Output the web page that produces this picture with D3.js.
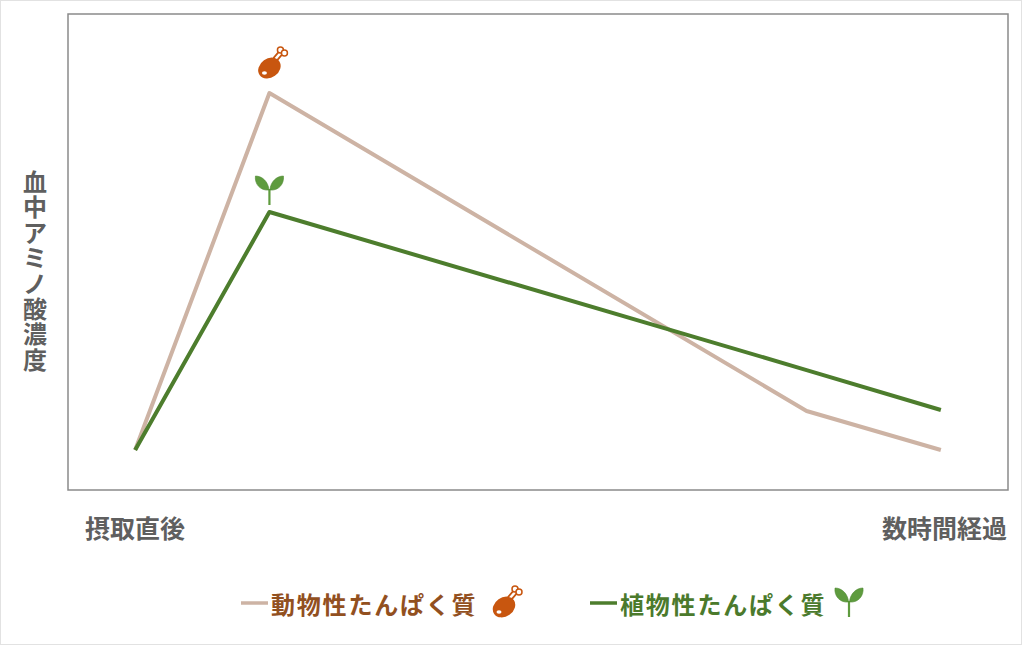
<!DOCTYPE html>
<html lang="ja">
<head>
  <meta charset="UTF-8">
  <title>血中アミノ酸濃度</title>
  <script src="https://d3js.org/d3.v7.min.js"></script>
  <style>
    html, body { margin: 0; padding: 0; background: #fff; }
    body { font-family: 'Noto Sans CJK JP', 'Noto Sans', sans-serif; }
  </style>
</head>
<body>
  <div id="chart"></div>
  <script>
    // data (x = time step, y = relative concentration)
    var timePoints = [0, 1, 5, 6];
    var animalValues = [8.4, 83.4, 16.6, 8.4];
    var plantValues = [8.4, 58.4, 25.2, 16.8];
    var seriesNames = ["動物性たんぱく質", "植物性たんぱく質"];
    var xLabels = ["摂取直後", "数時間経過"];
    var yLabel = "血中アミノ酸濃度";

    var width = 1024, height = 646;
    var frame = { left: 68, top: 14, right: 1008, bottom: 490 };
    var animalColor = "#cdb3a4", plantColor = "#4d7d2d";
    var animalText = "#92501f", plantText = "#4b7a2c";
    var chickenColor = "#c8560f", sproutColor = "#5e9b3e";

    var svg = d3.select("#chart").append("svg")
      .attr("width", width)
      .attr("height", height);

    // light outer border
    svg.append("rect")
      .attr("x", 0.5).attr("y", 0.5)
      .attr("width", 1021).attr("height", 644)
      .attr("fill", "#fff")
      .attr("stroke", "#e2e2e2");

    var x = d3.scaleLinear().domain([-0.5, 6.5]).range([frame.left, frame.right]);
    var y = d3.scaleLinear().domain([0, 100]).range([frame.bottom, frame.top]);

    svg.append("rect")
      .attr("x", frame.left).attr("y", frame.top)
      .attr("width", frame.right - frame.left)
      .attr("height", frame.bottom - frame.top)
      .attr("fill", "none")
      .attr("stroke", "#8a8a8a")
      .attr("stroke-width", 1.5);

    // icons
    var defs = svg.append("defs");
    var chicken = defs.append("g").attr("id", "chicken");
    chicken.append("path")
      .attr("d", "M4,-6 L10,-13")
      .attr("stroke", chickenColor).attr("stroke-width", 6).attr("stroke-linecap", "round");
    chicken.append("path")
      .attr("d", "M4,-6 L10,-13")
      .attr("stroke", "#fff").attr("stroke-width", 2.5).attr("stroke-linecap", "round");
    chicken.append("circle").attr("cx", 9).attr("cy", -15).attr("r", 3)
      .attr("fill", "#fff").attr("stroke", chickenColor).attr("stroke-width", 1.5);
    chicken.append("circle").attr("cx", 13).attr("cy", -12).attr("r", 3)
      .attr("fill", "#fff").attr("stroke", chickenColor).attr("stroke-width", 1.5);
    chicken.append("ellipse")
      .attr("cx", -2).attr("cy", 3).attr("rx", 12).attr("ry", 9.5)
      .attr("transform", "rotate(-35,-2,3)")
      .attr("fill", chickenColor);
    chicken.append("ellipse")
      .attr("cx", -7).attr("cy", 8).attr("rx", 2.5).attr("ry", 1.8)
      .attr("fill", "#fff");

    var sprout = defs.append("g").attr("id", "sprout");
    sprout.append("path")
      .attr("d", "M0,-1 L0,15")
      .attr("stroke", sproutColor).attr("stroke-width", 2.2);
    sprout.append("path")
      .attr("d", "M-0.5,0 C-1,-8 -7,-14 -14,-14 C-15,-6 -9,1 -0.5,0 Z")
      .attr("fill", sproutColor).attr("stroke", "#4f8a33").attr("stroke-width", 0.6);
    sprout.append("path")
      .attr("d", "M0.5,0 C1,-8 7,-14 14,-14 C15,-6 9,1 0.5,0 Z")
      .attr("fill", sproutColor).attr("stroke", "#4f8a33").attr("stroke-width", 0.6);

    var line = d3.line()
      .x(function(d) { return x(d.t); })
      .y(function(d) { return y(d.v); });

    var series = [
      { name: seriesNames[0], values: animalValues, color: animalColor, text: animalText, icon: "#chicken" },
      { name: seriesNames[1], values: plantValues, color: plantColor, text: plantText, icon: "#sprout" }
    ];

    series.forEach(function(s) {
      var pts = timePoints.map(function(t, i) { return { t: t, v: s.values[i] }; });
      svg.append("path")
        .datum(pts)
        .attr("d", line)
        .attr("fill", "none")
        .attr("stroke", s.color)
        .attr("stroke-width", 4)
        .attr("stroke-linejoin", "round");
    });

    // icons above peaks
    svg.append("use").attr("href", "#chicken")
      .attr("transform", "translate(" + (x(timePoints[1]) + 2) + "," + (y(animalValues[1]) - 28) + ")");
    svg.append("use").attr("href", "#sprout")
      .attr("transform", "translate(" + x(timePoints[1]) + "," + (y(plantValues[1]) - 22) + ")");

    // x labels
    svg.append("text")
      .attr("x", 85).attr("y", 538)
      .attr("font-size", 25).attr("font-weight", 700)
      .attr("fill", "#5f5f5f")
      .text(xLabels[0]);
    svg.append("text")
      .attr("x", 1007).attr("y", 538)
      .attr("text-anchor", "end")
      .attr("font-size", 25).attr("font-weight", 700)
      .attr("fill", "#5f5f5f")
      .text(xLabels[1]);

    // vertical y label, one glyph per line
    svg.selectAll(".ylabel")
      .data(yLabel.split(""))
      .enter()
      .append("text")
      .attr("class", "ylabel")
      .attr("x", 35)
      .attr("y", function(d, i) { return 191 + i * 25.4; })
      .attr("font-size", 24).attr("font-weight", 700)
      .attr("fill", "#5f5f5f")
      .attr("text-anchor", "middle")
      .text(function(d) { return d; });

    // legend
    var legend = [
      { s: series[0], x: 241, iconX: 506, iconY: 604 },
      { s: series[1], x: 590, iconX: 849, iconY: 602 }
    ];
    legend.forEach(function(l) {
      svg.append("line")
        .attr("x1", l.x).attr("x2", l.x + 27)
        .attr("y1", 603).attr("y2", 603)
        .attr("stroke", l.s.color).attr("stroke-width", 3.5);
      svg.append("text")
        .attr("x", l.x + 30).attr("y", 614)
        .attr("font-size", 24).attr("font-weight", 700)
        .attr("letter-spacing", 1.8)
        .attr("fill", l.s.text)
        .text(l.s.name);
      svg.append("use").attr("href", l.s.icon)
        .attr("transform", "translate(" + l.iconX + "," + l.iconY + ")");
    });
  </script>
</body>
</html>
